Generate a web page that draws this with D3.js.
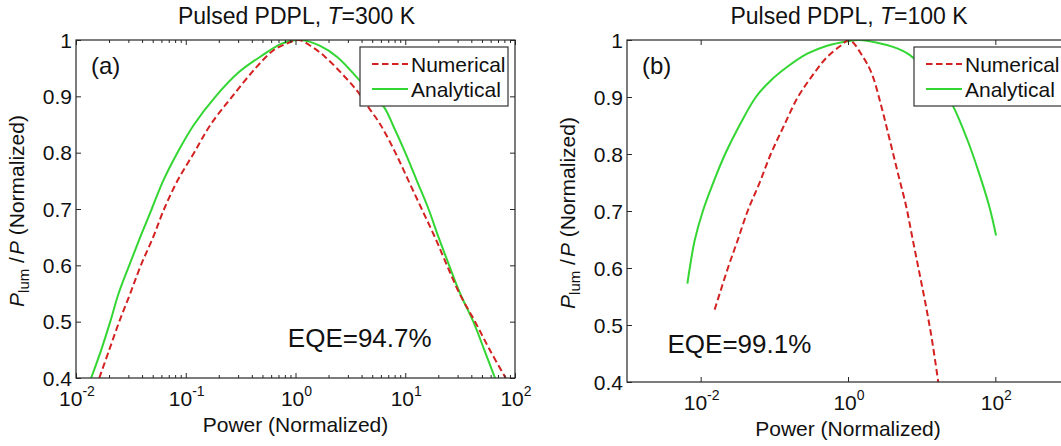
<!DOCTYPE html>
<html><head><meta charset="utf-8">
<script src="https://cdn.jsdelivr.net/npm/d3@7"></script>
<style>
body{margin:0;overflow:hidden;background:#fff}
svg{display:block}
text{font-family:"Liberation Sans",Arial,Helvetica,sans-serif;fill:#111}
</style>
</head><body>
<svg id="chart" width="1061" height="446"></svg>
<script>
// ---------- data (x values are log10 of normalized power) ----------
const yTicks = [0.4, 0.5, 0.6, 0.7, 0.8, 0.9, 1];
const yTickLabels = ["0.4", "0.5", "0.6", "0.7", "0.8", "0.9", "1"];
const xTickExpA = [-2, -1, 0, 1, 2];
const xTickExpB = [-2, 0, 2];
const seriesNames = ["Numerical", "Analytical"];
const titleTemps = ["300", "100"];
const eqeLabels = ["EQE=94.7%", "EQE=99.1%"];
const panelLabels = ["(a)", "(b)"];

// Panel (a), T = 300 K
const aNumLogP = [-1.788, -1.697, -1.606, -1.506, -1.409, -1.297, -1.197, -1.076, -0.924, -0.773, -0.576, -0.364, -0.212, -0.10, 0.03, 0.15, 0.27, 0.424, 0.56, 0.667, 0.773, 0.91, 1.03, 1.15, 1.27, 1.38, 1.494, 1.636, 1.77, 1.915];
const aNumY    = [0.40, 0.45, 0.50, 0.55, 0.60, 0.65, 0.70, 0.75, 0.80, 0.85, 0.90, 0.95, 0.98, 0.992, 1.00, 0.988, 0.97, 0.94, 0.91, 0.88, 0.85, 0.80, 0.75, 0.70, 0.65, 0.60, 0.55, 0.50, 0.45, 0.40];
const aAnaLogP = [-1.862, -1.77, -1.688, -1.612, -1.515, -1.415, -1.31, -1.206, -1.076, -0.924, -0.727, -0.515, -0.30, -0.12, 0.05, 0.22, 0.38, 0.60, 0.81, 0.885, 1.0, 1.106, 1.212, 1.303, 1.40, 1.50, 1.62, 1.72, 1.818];
const aAnaY    = [0.40, 0.45, 0.50, 0.55, 0.60, 0.65, 0.70, 0.75, 0.80, 0.85, 0.90, 0.943, 0.973, 0.994, 1.00, 0.99, 0.97, 0.925, 0.88, 0.85, 0.80, 0.75, 0.70, 0.65, 0.60, 0.55, 0.50, 0.45, 0.40];

// Panel (b), T = 100 K
const bNumLogP = [-1.81, -1.63, -1.497, -1.362, -1.205, -1.048, -0.868, -0.679, -0.464, -0.284, -0.10, 0.02, 0.20, 0.32, 0.454, 0.566, 0.678, 0.79, 0.88, 0.97, 1.06, 1.14, 1.225];
const bNumY    = [0.527, 0.60, 0.649, 0.70, 0.748, 0.80, 0.85, 0.90, 0.941, 0.97, 0.99, 1.00, 0.971, 0.942, 0.883, 0.825, 0.766, 0.708, 0.649, 0.591, 0.532, 0.474, 0.40];
const bAnaLogP = [-2.18, -2.148, -2.08, -1.97, -1.834, -1.668, -1.474, -1.25, -1.048, -0.823, -0.553, -0.284, 0.0, 0.16, 0.61, 0.836, 1.10, 1.26, 1.40, 1.62, 1.78, 1.92, 2.01];
const bAnaY    = [0.5725, 0.60, 0.649, 0.70, 0.748, 0.80, 0.85, 0.90, 0.929, 0.953, 0.976, 0.99, 0.998, 1.00, 0.988, 0.974, 0.94, 0.912, 0.89, 0.825, 0.766, 0.707, 0.657];

// ---------- drawing ----------
const svg = d3.select("#chart");
const RED = "#d42121", GREEN = "#33d633", AXIS = "#262626";
const FONT = 21;

function zip(lp, ys) { return lp.map((v, i) => [Math.pow(10, v), ys[i]]); }

const panels = [
  {id: "a", left: 76, right: 515, top: 40, bottom: 378, xDom: [1e-2, 1e2], xTickExp: xTickExpA, minor: true,
   num: zip(aNumLogP, aNumY), ana: zip(aAnaLogP, aAnaY), idx: 0},
  {id: "b", left: 627, right: 1069, top: 40, bottom: 382, xDom: [1e-3, 1e3], xTickExp: xTickExpB, minor: false,
   num: zip(bNumLogP, bNumY), ana: zip(bAnaLogP, bAnaY), idx: 1}
];

panels.forEach(p => {
  const x = d3.scaleLog().domain(p.xDom).range([p.left, p.right]);
  const y = d3.scaleLinear().domain([0.4, 1]).range([p.bottom, p.top]);
  const g = svg.append("g");
  const cx = (p.left + p.right) / 2;

  g.append("clipPath").attr("id", "clip" + p.id).append("rect")
    .attr("x", p.left).attr("y", p.top).attr("width", p.right - p.left).attr("height", p.bottom - p.top);

  const line = d3.line().x(d => x(d[0])).y(d => y(d[1])).curve(d3.curveCatmullRom.alpha(0.5));
  const cg = g.append("g").attr("clip-path", `url(#clip${p.id})`);
  cg.append("path").datum(p.ana).attr("d", line).attr("fill", "none")
    .attr("stroke", GREEN).attr("stroke-width", 2).attr("stroke-linejoin", "round");
  cg.append("path").datum(p.num).attr("d", line).attr("fill", "none")
    .attr("stroke", RED).attr("stroke-width", 2).attr("stroke-dasharray", "6.5,3.5");

  g.append("rect").attr("x", p.left).attr("y", p.top).attr("width", p.right - p.left).attr("height", p.bottom - p.top)
    .attr("fill", "none").attr("stroke", AXIS).attr("stroke-width", 1.2);

  const xMajor = p.xTickExp.map(e => Math.pow(10, e));
  const bottomAxis = d3.axisBottom(x).tickValues(xMajor).tickSizeInner(-5).tickSizeOuter(0).tickFormat("");
  const topAxis = d3.axisTop(x).tickValues(xMajor).tickSizeInner(-5).tickSizeOuter(0).tickFormat("");
  [g.append("g").attr("transform", `translate(0,${p.bottom})`).call(bottomAxis),
   g.append("g").attr("transform", `translate(0,${p.top})`).call(topAxis)].forEach(a => {
     a.select(".domain").remove();
     a.selectAll("line").attr("stroke", AXIS);
   });
  if (p.minor) {
    const minor = [];
    for (let e = Math.log10(p.xDom[0]); e < Math.log10(p.xDom[1]); e++)
      for (let k = 2; k <= 9; k++) minor.push(k * Math.pow(10, e));
    const mb = d3.axisBottom(x).tickValues(minor).tickSizeInner(-3).tickSizeOuter(0).tickFormat("");
    const mt = d3.axisTop(x).tickValues(minor).tickSizeInner(-3).tickSizeOuter(0).tickFormat("");
    [g.append("g").attr("transform", `translate(0,${p.bottom})`).call(mb),
     g.append("g").attr("transform", `translate(0,${p.top})`).call(mt)].forEach(a => {
       a.select(".domain").remove();
       a.selectAll("line").attr("stroke", AXIS);
     });
  }
  xMajor.forEach((v, i) => {
    const t = g.append("text").attr("x", x(v) + 1).attr("y", p.bottom + 28)
      .attr("text-anchor", "middle").attr("font-size", FONT);
    t.append("tspan").text("10");
    t.append("tspan").attr("font-size", 14).attr("dy", -10).text(String(p.xTickExp[i]));
  });

  const la = d3.axisLeft(y).tickValues(yTicks).tickSizeInner(-5).tickSizeOuter(0).tickFormat("");
  const ra = d3.axisRight(y).tickValues(yTicks).tickSizeInner(-5).tickSizeOuter(0).tickFormat("");
  [g.append("g").attr("transform", `translate(${p.left},0)`).call(la),
   g.append("g").attr("transform", `translate(${p.right},0)`).call(ra)].forEach(a => {
     a.select(".domain").remove();
     a.selectAll("line").attr("stroke", AXIS);
   });
  yTicks.forEach((v, i) => {
    g.append("text").attr("x", p.left - 4).attr("y", y(v)).attr("dy", "0.36em")
      .attr("text-anchor", "end").attr("font-size", FONT).text(yTickLabels[i]);
  });

  g.append("text").attr("x", cx).attr("y", p.bottom + 54).attr("text-anchor", "middle")
    .attr("font-size", FONT).text("Power (Normalized)");

  const yl = g.append("text").attr("transform", `translate(${p.left - 52},${(p.top + p.bottom) / 2 + 2}) rotate(-90)`)
    .attr("text-anchor", "middle").attr("font-size", FONT);
  yl.append("tspan").attr("font-style", "italic").text("P");
  yl.append("tspan").attr("font-size", 15).attr("dy", 5).text("lum");
  yl.append("tspan").attr("dy", -5).text(" /");
  yl.append("tspan").attr("font-style", "italic").attr("dx", 2).text("P");
  yl.append("tspan").text(" (Normalized)");

  const tt = g.append("text").attr("x", cx + 1).attr("y", 24).attr("text-anchor", "middle").attr("font-size", 23);
  tt.append("tspan").text("Pulsed PDPL, ");
  tt.append("tspan").attr("font-style", "italic").text("T");
  tt.append("tspan").text("=" + titleTemps[p.idx] + " K");

  g.append("text").attr("x", p.left + 15).attr("y", 74).attr("font-size", 24).text(panelLabels[p.idx]);

  const eqeX = p.idx === 0 ? x(Math.pow(10, -0.07)) : x(Math.pow(10, -2.45));
  const eqeY = p.idx === 0 ? 347 : 353;
  g.append("text").attr("x", eqeX).attr("y", eqeY).attr("font-size", 26).text(eqeLabels[p.idx]);

  const lx = p.right - 155, ly = p.top + 7, lw = 148, lh = 59;
  const lg = g.append("g");
  lg.append("rect").attr("x", lx).attr("y", ly).attr("width", lw).attr("height", lh)
    .attr("fill", "#fff").attr("stroke", "#333").attr("stroke-width", 1.2);
  const rows = [{name: seriesNames[0], color: RED, dash: "6.5,3.5", yy: ly + 17},
                {name: seriesNames[1], color: GREEN, dash: null, yy: ly + 42}];
  rows.forEach(r => {
    lg.append("line").attr("x1", lx + 12).attr("x2", lx + 48).attr("y1", r.yy).attr("y2", r.yy)
      .attr("stroke", r.color).attr("stroke-width", 2).attr("stroke-dasharray", r.dash);
    lg.append("text").attr("x", lx + 51).attr("y", r.yy).attr("dy", "0.36em")
      .attr("font-size", FONT).text(r.name);
  });
});
</script>
</body></html>
